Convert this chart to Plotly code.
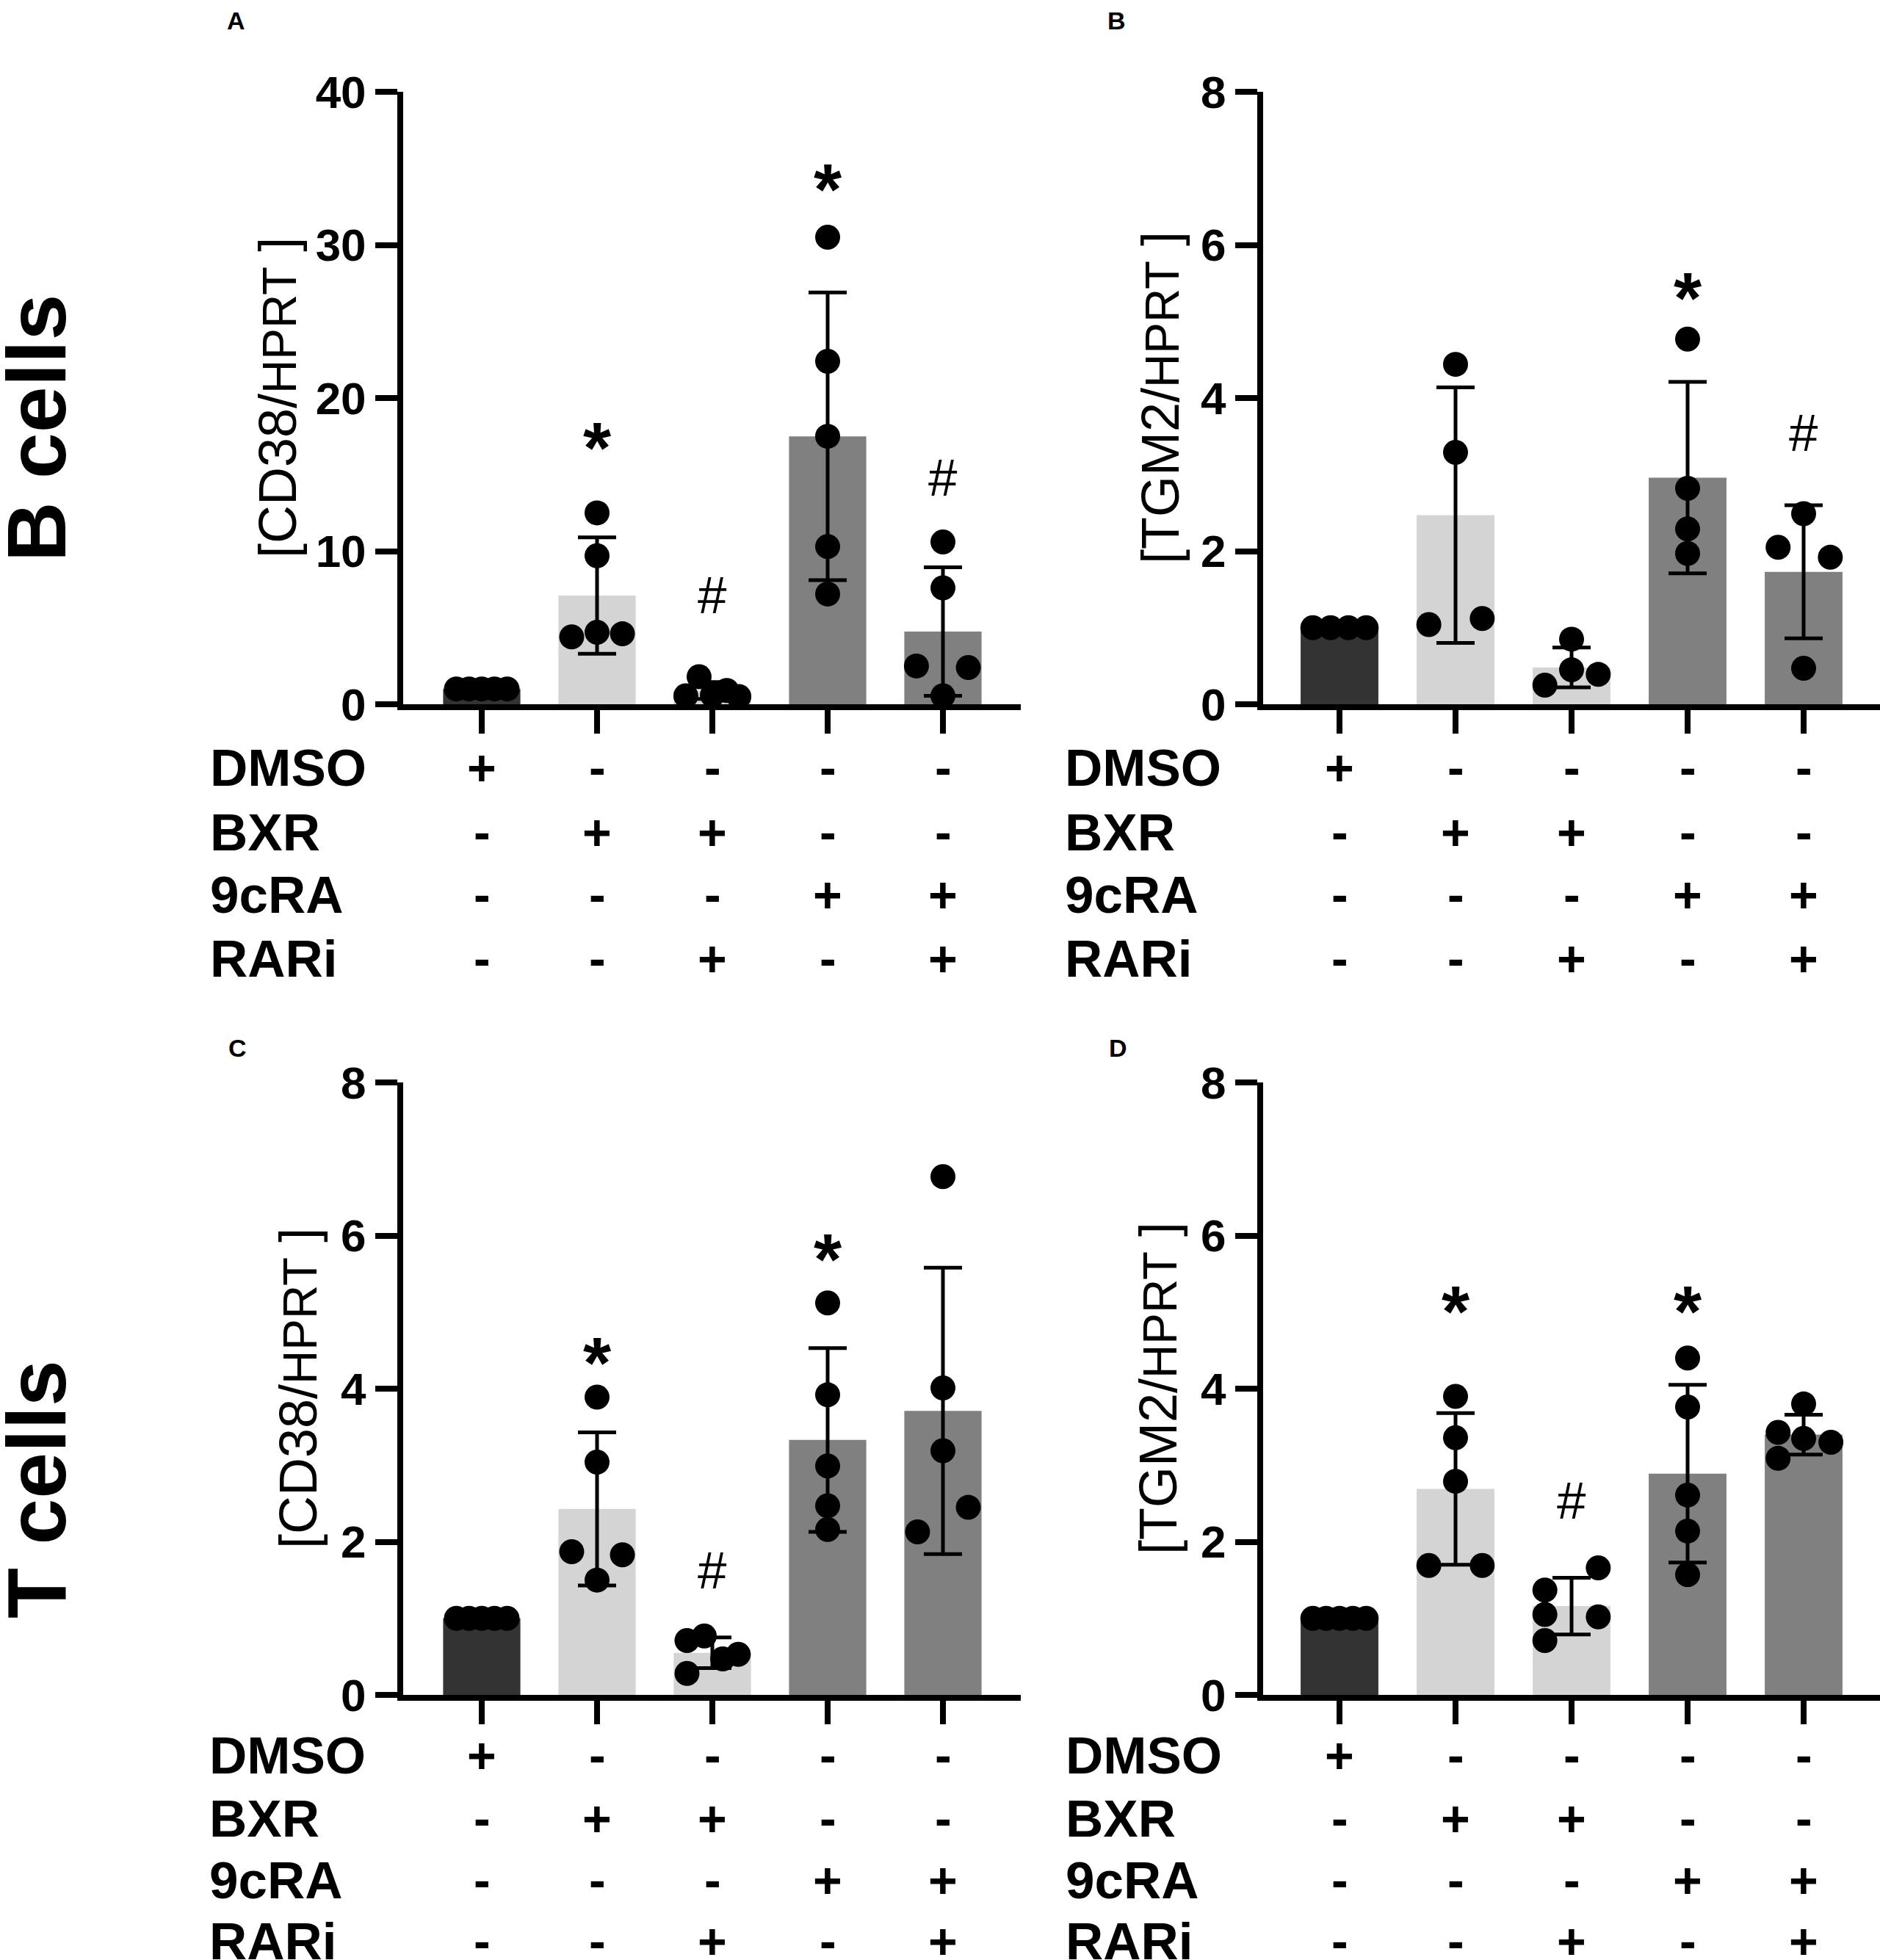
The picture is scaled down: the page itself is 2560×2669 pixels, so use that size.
import plotly.graph_objects as go

W, H = 2560, 2669
FONT = 'Liberation Sans, Arial, sans-serif'

# treatment rows under each panel
row_names = ['DMSO', 'BXR', '9cRA', 'RARi']
row_signs = [
    ['+', '-', '-', '-', '-'],
    ['-', '+', '+', '-', '-'],
    ['-', '-', '-', '+', '+'],
    ['-', '-', '+', '-', '+'],
]
bar_colors = ['#333333', '#d4d4d4', '#d4d4d4', '#808080', '#808080']

# A: CD38/HPRT, B cells
a_mean = [1.0, 7.1, 0.9, 17.5, 4.75]
a_sd = [0.0, 3.8, 0.55, 9.4, 4.2]
a_points = [[1, 1, 1, 1, 1], [12.5, 9.7, 4.4, 4.7, 4.6], [0.55, 1.8, 0.6, 0.9, 0.5],
            [30.5, 22.4, 17.5, 10.3, 7.2], [10.6, 7.6, 2.5, 2.4, 0.55]]
a_star = [None, 17.6, None, 34.5, None]
a_hash = [None, None, 7.1, None, 14.8]

# B: TGM2/HPRT, B cells
b_mean = [1.0, 2.47, 0.48, 2.96, 1.73]
b_sd = [0.0, 1.67, 0.26, 1.25, 0.87]
b_points = [[1, 1, 1, 1], [4.44, 3.29, 1.04, 1.12], [0.85, 0.45, 0.25, 0.39],
            [4.77, 2.82, 2.29, 1.97], [2.49, 2.05, 1.92, 0.47]]
b_star = [None, None, None, 5.48, None]
b_hash = [None, None, None, None, 3.54]

# C: CD38/HPRT, T cells
c_mean = [1.0, 2.43, 0.55, 3.33, 3.71]
c_sd = [0.0, 1.0, 0.2, 1.2, 1.87]
c_points = [[1, 1, 1, 1, 1], [3.89, 3.04, 1.87, 1.83, 1.50], [0.71, 0.77, 0.47, 0.53, 0.28],
            [5.12, 3.92, 2.99, 2.47, 2.16], [6.77, 4.01, 3.19, 2.45, 2.13]]
c_star = [None, 4.51, None, 5.86, None]
c_hash = [None, None, 1.63, None, None]

# D: TGM2/HPRT, T cells
d_mean = [1.0, 2.69, 1.16, 2.89, 3.40]
d_sd = [0.0, 0.99, 0.37, 1.16, 0.26]
d_points = [[1, 1, 1, 1, 1], [3.90, 3.36, 2.79, 1.69, 1.69], [1.66, 1.37, 1.05, 1.02, 0.71],
            [4.40, 3.76, 2.61, 2.14, 1.57], [3.80, 3.43, 3.35, 3.30, 3.09]]
d_star = [None, 5.18, None, 5.18, None]
d_hash = [None, None, 2.54, None, None]

# horizontal scatter of the dots inside each column (layout only)
a_jit = [[-0.22, -0.11, 0, 0.11, 0.22], [0, 0, -0.22, 0, 0.22], [-0.23, -0.115, 0, 0.125, 0.23],
         [0, 0, 0, 0, 0], [0, 0, -0.23, 0.22, 0]]
b_jit = [[-0.23, -0.077, 0.077, 0.23], [0, 0, -0.23, 0.23], [0, 0, -0.23, 0.23],
         [0, 0, 0, 0], [0, -0.22, 0.23, 0]]
c_jit = [[-0.22, -0.11, 0, 0.11, 0.22], [0, 0, -0.22, 0.22, 0], [-0.22, -0.07, 0.09, 0.225, -0.22],
         [0, 0, 0, 0, 0], [0, 0, 0, 0.22, -0.22]]
d_jit = [[-0.23, -0.115, 0, 0.115, 0.23], [0, 0, 0, -0.23, 0.23], [0.23, -0.23, -0.23, 0.23, -0.23],
         [0, 0, 0, 0, 0], [0, -0.22, 0, 0.235, -0.22]]

# panel geometry in pixels
panels = [
    dict(ax='', letter='A', lxy=(321, 28), left=549, right=1390, top=125, bottom=959, c0=656, step=157,
         ymax=40, dtick=10, title='CD38', tx=378, rowx=284, rows=[1045, 1133, 1218, 1305],
         data=(a_mean, a_sd, a_points, a_jit, a_star, a_hash)),
    dict(ax='2', letter='B', lxy=(1520, 28), left=1720, right=2560, top=125, bottom=959, c0=1824, step=158,
         ymax=8, dtick=2, title='TGM2', tx=1580, rowx=1448, rows=[1045, 1133, 1218, 1305],
         data=(b_mean, b_sd, b_points, b_jit, b_star, b_hash)),
    dict(ax='3', letter='C', lxy=(323, 1427), left=549, right=1390, top=1474, bottom=2308, c0=656, step=157,
         ymax=8, dtick=2, title='CD38', tx=406, rowx=283, rows=[2390, 2476, 2560, 2643],
         data=(c_mean, c_sd, c_points, c_jit, c_star, c_hash)),
    dict(ax='4', letter='D', lxy=(1522, 1427), left=1720, right=2560, top=1474, bottom=2308, c0=1824, step=158,
         ymax=8, dtick=2, title='TGM2', tx=1577, rowx=1449, rows=[2390, 2476, 2560, 2643],
         data=(d_mean, d_sd, d_points, d_jit, d_star, d_hash)),
]

fig = go.Figure()
annotations = []

for p in panels:
    mean, sd, points, jit, star, hsh = p['data']
    xa, ya = 'x' + p['ax'], 'y' + p['ax']
    cats = list(range(len(mean)))

    fig.add_trace(go.Bar(
        x=cats, y=mean, width=0.67, xaxis=xa, yaxis=ya,
        marker=dict(color=bar_colors, line=dict(width=0)),
        error_y=dict(type='data', array=sd, visible=True, color='black', thickness=5, width=26),
        showlegend=False))

    xs, ys = [], []
    for i, grp in enumerate(points):
        for v, j in zip(grp, jit[i]):
            xs.append(i + j)
            ys.append(v)
    fig.add_trace(go.Scatter(
        x=xs, y=ys, mode='markers', xaxis=xa, yaxis=ya, cliponaxis=False,
        marker=dict(size=34, color='black', line=dict(width=0)), showlegend=False))

    for i in cats:
        if star[i] is not None:
            annotations.append(dict(x=i, y=star[i], xref=xa, yref=ya, text='*', showarrow=False,
                                    yshift=-18, font=dict(family=FONT, size=98, color='black',
                                                          weight='bold')))
        if hsh[i] is not None:
            annotations.append(dict(x=i, y=hsh[i], xref=xa, yref=ya, text='#', showarrow=False,
                                    font=dict(family=FONT, size=71, color='black')))

    # treatment table
    for r, name in enumerate(row_names):
        yy = 1 - p['rows'][r] / H
        annotations.append(dict(x=p['rowx'] / W, y=yy, xref='paper', yref='paper', text=name,
                                xanchor='left', yanchor='middle', showarrow=False,
                                font=dict(family=FONT, size=71, color='black', weight='bold')))
        for i in cats:
            annotations.append(dict(x=i, y=yy, xref=xa, yref='paper', text=row_signs[r][i],
                                    xanchor='center', yanchor='middle', showarrow=False,
                                    font=dict(family=FONT, size=68, color='black', weight='bold')))

    # y title
    annotations.append(dict(
        x=p['tx'] / W, y=1 - (p['top'] + p['bottom']) / 2 / H, xref='paper', yref='paper',
        text='[' + p['title'] + '/<span style="font-size:64px">HPRT</span> ]', textangle=-90,
        xanchor='center', yanchor='middle', showarrow=False,
        font=dict(family=FONT, size=72, color='black')))

    # panel letter
    annotations.append(dict(x=p['lxy'][0] / W, y=1 - p['lxy'][1] / H, xref='paper', yref='paper',
                            text=p['letter'], showarrow=False, xanchor='center', yanchor='middle',
                            font=dict(family=FONT, size=34, color='black', weight='bold')))

    axis_common = dict(showline=True, linewidth=8, linecolor='black', ticks='outside',
                       tickwidth=8, tickcolor='black', showgrid=False, zeroline=False,
                       automargin=False, fixedrange=True)
    fig.update_layout({
        'xaxis' + p['ax']: dict(
            domain=[p['left'] / W, min(p['right'] / W, 1.0)],
            range=[(p['left'] - p['c0']) / p['step'], (p['right'] - p['c0']) / p['step']],
            tickvals=cats, ticklen=32, showticklabels=False, anchor=ya,
            **axis_common),
        'yaxis' + p['ax']: dict(
            domain=[1 - p['bottom'] / H, 1 - p['top'] / H],
            range=[0, p['ymax']], tickvals=list(range(0, p['ymax'] + 1, p['dtick'])),
            ticklen=30, anchor=xa,
            tickfont=dict(family=FONT, size=62, color='black', weight='bold'),
            **axis_common),
    })

# row headings
for txt, yc in [('B cells', 583), ('T cells', 2028)]:
    annotations.append(dict(x=50 / W, y=1 - yc / H, xref='paper', yref='paper', text=txt,
                            textangle=-90, xanchor='center', yanchor='middle', showarrow=False,
                            font=dict(family=FONT, size=113, color='black', weight='bold')))

fig.update_layout(
    width=W, height=H, margin=dict(l=0, r=0, t=0, b=0, pad=0, autoexpand=False),
    paper_bgcolor='white', plot_bgcolor='white',
    annotations=annotations, showlegend=False)

fig.write_html("out.html", config={'displayModeBar': False},
               post_script="document.body.style.margin='0';document.body.style.overflow='hidden';")
